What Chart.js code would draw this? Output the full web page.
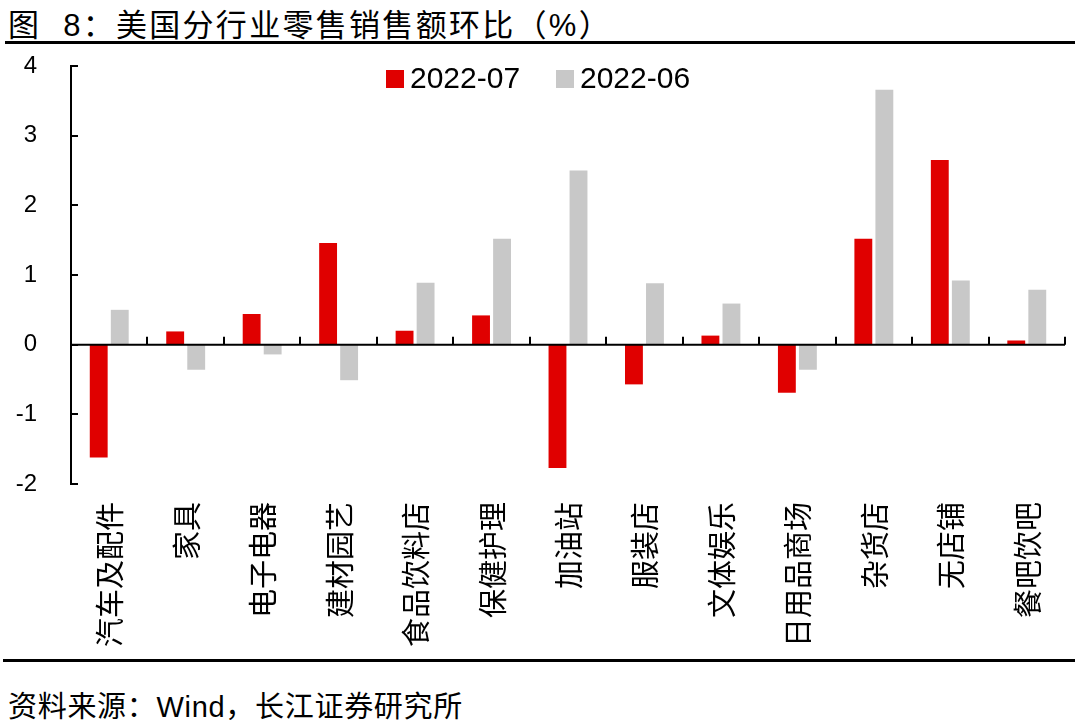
<!DOCTYPE html>
<html>
<head>
<meta charset="utf-8">
<script src="https://cdn.jsdelivr.net/npm/chart.js@4.4.0/dist/chart.umd.min.js"></script>
<style>
  body { margin: 0; background: #fff; font-family: "Liberation Sans", "Noto Sans CJK SC", sans-serif; }
  .page { position: relative; width: 1080px; height: 727px; overflow: hidden; }
  .title { position: absolute; left: 8px; top: 0px; font-size: 31px; letter-spacing: 2.3px; color: #000; white-space: nowrap; }
  .rule { position: absolute; height: 3px; background: #000; }
  .source { position: absolute; left: 8px; top: 683px; font-size: 29px; letter-spacing: 0.7px; color: #000; white-space: nowrap; }
  .chart-box { position: absolute; left: 0; top: 0; width: 1080px; height: 660px; }
</style>
</head>
<body>
<div class="page">
  <div class="title">图&nbsp; 8：美国分行业零售销售额环比（%）</div>
  <div class="rule" style="left:5px; top:41px; width:1070px;"></div>
  <div class="chart-box"><canvas id="myChart"></canvas></div>
  <div class="rule" style="left:3px; top:659px; width:1072px;"></div>
  <div class="source">资料来源：Wind，长江证券研究所</div>
</div>
<script>
// categories and series
const categories = ['汽车及配件', '家具', '电子电器', '建材园艺', '食品饮料店', '保健护理', '加油站',
  '服装店', '文体娱乐', '日用品商场', '杂货店', '无店铺', '餐吧饮吧'];
const jul2022 = [-1.62, 0.19, 0.44, 1.46, 0.20, 0.42, -1.77, -0.57, 0.13, -0.69, 1.52, 2.65, 0.06];
const jun2022 = [0.50, -0.36, -0.14, -0.51, 0.89, 1.52, 2.50, 0.88, 0.59, -0.36, 3.66, 0.92, 0.79];
const yTicks = [-2, -1, 0, 1, 2, 3, 4];

const latinFont = '"Liberation Sans", "Noto Sans CJK SC", sans-serif';
const cjkFont = '"Noto Sans CJK SC", sans-serif';

// axes, zero line, category labels and legend
const decorPlugin = {
  id: 'decor',
  afterDraw(chart) {
    const { ctx, chartArea, scales: { x, y } } = chart;
    const y0 = y.getPixelForValue(0);
    ctx.save();
    ctx.strokeStyle = '#000';
    ctx.lineWidth = 2;

    // zero line with upward ticks at category boundaries
    ctx.beginPath();
    ctx.moveTo(chartArea.left, y0);
    ctx.lineTo(chartArea.right, y0);
    for (let i = 1; i <= categories.length; i++) {
      const xb = Math.round(x.getPixelForValue(i - 0.5));
      ctx.moveTo(xb, y0);
      ctx.lineTo(xb, y0 - 8);
    }
    // inward y ticks
    yTicks.forEach(v => {
      const yy = Math.round(y.getPixelForValue(v));
      ctx.moveTo(chartArea.left, yy);
      ctx.lineTo(chartArea.left + 7, yy);
    });
    ctx.stroke();

    // rotated category labels
    ctx.fillStyle = '#000';
    ctx.font = '29px ' + cjkFont;
    ctx.textAlign = 'right';
    ctx.textBaseline = 'middle';
    categories.forEach((c, i) => {
      ctx.save();
      ctx.translate(x.getPixelForValue(i) + 1, chartArea.bottom + 18);
      ctx.rotate(-Math.PI / 2);
      ctx.fillText(c, 0, 0);
      ctx.restore();
    });

    // legend
    const legendX = [386, 556];
    ctx.font = '30px ' + latinFont;
    ctx.textAlign = 'left';
    chart.data.datasets.forEach((ds, i) => {
      ctx.fillStyle = ds.backgroundColor;
      ctx.fillRect(legendX[i], 70, 18, 18);
      ctx.fillStyle = '#000';
      ctx.fillText(ds.label, legendX[i] + 24, 80);
    });
    ctx.restore();
  }
};

const ctx = document.getElementById('myChart').getContext('2d');
new Chart(ctx, {
  type: 'bar',
  data: {
    labels: categories,
    datasets: [
      { label: '2022-07', data: jul2022, backgroundColor: '#E00000' },
      { label: '2022-06', data: jun2022, backgroundColor: '#C8C8C8' }
    ]
  },
  options: {
    responsive: true,
    maintainAspectRatio: false,
    animation: false,
    devicePixelRatio: 1,
    layout: { padding: { top: 66, right: 15, bottom: 0, left: 0 } },
    datasets: { bar: { categoryPercentage: 0.55, barPercentage: 0.85 } },
    plugins: { legend: { display: false }, tooltip: { enabled: false } },
    scales: {
      x: {
        offset: true,
        grid: { display: false },
        border: { display: false },
        ticks: { display: false },
        afterFit: scale => { scale.height = 176; }
      },
      y: {
        min: -2,
        max: 4,
        afterBuildTicks: scale => { scale.ticks = yTicks.map(v => ({ value: v })); },
        grid: { display: false, drawTicks: false },
        border: { display: true, color: '#000', width: 2 },
        ticks: { color: '#000', padding: 34, font: { family: latinFont, size: 24 } },
        afterFit: scale => { scale.width = 71; }
      }
    }
  },
  plugins: [decorPlugin]
});
</script>
</body>
</html>
